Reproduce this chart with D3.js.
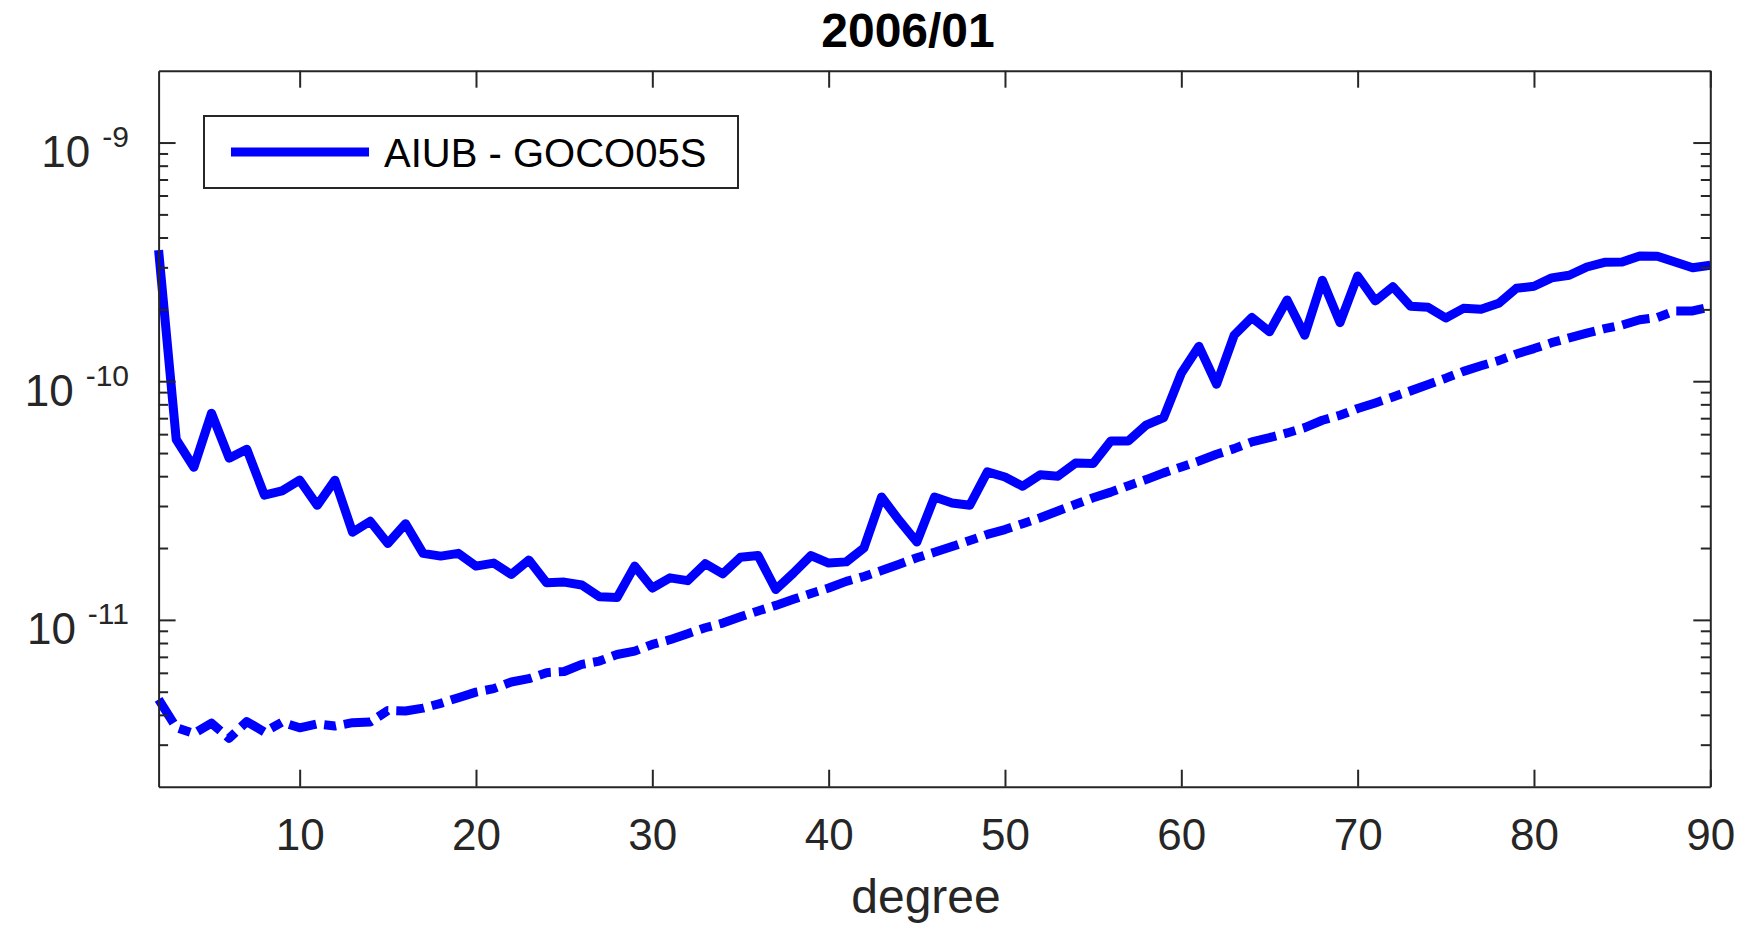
<!DOCTYPE html>
<html>
<head>
<meta charset="utf-8">
<script src="https://cdn.jsdelivr.net/npm/d3@7"></script>
<style>
  html, body { margin: 0; padding: 0; background: #fff; }
  svg { display: block; font-family: "Liberation Sans", Arial, Helvetica, sans-serif; }
</style>
</head>
<body>
<div id="chart"></div>
<script>
const title = "2006/01";
const xLabel = "degree";
const legendLabel = "AIUB - GOCO05S";

const degrees = [2, 3, 4, 5, 6, 7, 8, 9, 10, 11, 12, 13, 14, 15, 16, 17, 18, 19, 20,
  21, 22, 23, 24, 25, 26, 27, 28, 29, 30, 31, 32, 33, 34, 35, 36, 37, 38, 39, 40,
  41, 42, 43, 44, 45, 46, 47, 48, 49, 50, 51, 52, 53, 54, 55, 56, 57, 58, 59, 60,
  61, 62, 63, 64, 65, 66, 67, 68, 69, 70, 71, 72, 73, 74, 75, 76, 77, 78, 79, 80,
  81, 82, 83, 84, 85, 86, 87, 88, 89, 90];

// AIUB - GOCO05S difference (solid)
const diffAmplitude = [3.54e-10, 5.70e-11, 4.36e-11, 7.34e-11, 4.76e-11, 5.19e-11, 3.33e-11, 3.47e-11, 3.85e-11,
  3.02e-11, 3.85e-11, 2.33e-11, 2.59e-11, 2.09e-11, 2.53e-11, 1.90e-11, 1.85e-11, 1.90e-11, 1.68e-11,
  1.73e-11, 1.55e-11, 1.78e-11, 1.43e-11, 1.44e-11, 1.40e-11, 1.25e-11, 1.24e-11, 1.68e-11, 1.36e-11,
  1.50e-11, 1.46e-11, 1.72e-11, 1.56e-11, 1.83e-11, 1.86e-11, 1.34e-11, 1.57e-11, 1.86e-11, 1.73e-11,
  1.75e-11, 2.00e-11, 3.27e-11, 2.61e-11, 2.12e-11, 3.27e-11, 3.09e-11, 3.02e-11, 4.17e-11, 3.97e-11,
  3.63e-11, 4.06e-11, 4.00e-11, 4.54e-11, 4.52e-11, 5.62e-11, 5.62e-11, 6.54e-11, 7.04e-11, 1.08e-10,
  1.40e-10, 9.71e-11, 1.56e-10, 1.85e-10, 1.61e-10, 2.19e-10, 1.56e-10, 2.65e-10, 1.76e-10, 2.76e-10,
  2.17e-10, 2.49e-10, 2.06e-10, 2.04e-10, 1.84e-10, 2.02e-10, 2.00e-10, 2.12e-10, 2.45e-10, 2.50e-10,
  2.71e-10, 2.78e-10, 3.01e-10, 3.15e-10, 3.16e-10, 3.35e-10, 3.34e-10, 3.16e-10, 2.99e-10, 3.06e-10];

// formal error (dash-dot)
const formalError = [4.64e-12, 3.54e-12, 3.34e-12, 3.69e-12, 3.19e-12, 3.75e-12, 3.39e-12, 3.73e-12, 3.53e-12,
  3.67e-12, 3.59e-12, 3.71e-12, 3.73e-12, 4.17e-12, 4.15e-12, 4.27e-12, 4.47e-12, 4.72e-12, 4.98e-12,
  5.15e-12, 5.49e-12, 5.67e-12, 6.01e-12, 6.08e-12, 6.51e-12, 6.72e-12, 7.16e-12, 7.40e-12, 7.89e-12,
  8.26e-12, 8.75e-12, 9.27e-12, 9.70e-12, 1.03e-11, 1.09e-11, 1.15e-11, 1.22e-11, 1.29e-11, 1.36e-11,
  1.45e-11, 1.52e-11, 1.61e-11, 1.71e-11, 1.82e-11, 1.92e-11, 2.03e-11, 2.15e-11, 2.28e-11, 2.39e-11,
  2.53e-11, 2.68e-11, 2.86e-11, 3.05e-11, 3.25e-11, 3.43e-11, 3.65e-11, 3.87e-11, 4.13e-11, 4.37e-11,
  4.63e-11, 4.94e-11, 5.22e-11, 5.57e-11, 5.80e-11, 6.07e-11, 6.39e-11, 6.86e-11, 7.20e-11, 7.68e-11,
  8.11e-11, 8.59e-11, 9.11e-11, 9.69e-11, 1.03e-10, 1.10e-10, 1.16e-10, 1.22e-10, 1.30e-10, 1.37e-10,
  1.45e-10, 1.52e-10, 1.59e-10, 1.66e-10, 1.72e-10, 1.81e-10, 1.85e-10, 1.97e-10, 1.97e-10, 2.05e-10];

const xDomain = [2, 90];
const yDomain = [2e-12, 2e-9];
const xTicks = [10, 20, 30, 40, 50, 60, 70, 80, 90];
const yMajorTicks = [1e-11, 1e-10, 1e-9];
const yTickExponents = ["-11", "-10", "-9"];
const yMinorTicks = [3e-12, 4e-12, 5e-12, 6e-12, 7e-12, 8e-12, 9e-12,
  2e-11, 3e-11, 4e-11, 5e-11, 6e-11, 7e-11, 8e-11, 9e-11,
  2e-10, 3e-10, 4e-10, 5e-10, 6e-10, 7e-10, 8e-10, 9e-10];

const width = 1746, height = 926;
const plot = { left: 158.6, right: 1710.3, top: 70.7, bottom: 786.7 };
const axisColor = "#262626";
const lineColor = "#0000ff";
const majorLen = 17, minorLen = 9.5;

const x = d3.scaleLinear().domain(xDomain).range([plot.left, plot.right]);
const y = d3.scaleLog().domain(yDomain).range([plot.bottom, plot.top]);

const svg = d3.select("#chart").append("svg")
  .attr("width", width)
  .attr("height", height)
  .attr("viewBox", [0, 0, width, height]);

svg.append("rect").attr("width", width).attr("height", height).attr("fill", "#fff");

// data lines
const line = d3.line()
  .x((d, i) => x(degrees[i]))
  .y(d => y(d));

svg.append("path")
  .datum(formalError)
  .attr("fill", "none")
  .attr("stroke", lineColor)
  .attr("stroke-width", 9)
  .attr("stroke-dasharray", "28,8,12,8")
  .attr("stroke-linejoin", "round")
  .attr("d", line);

svg.append("path")
  .datum(diffAmplitude)
  .attr("fill", "none")
  .attr("stroke", lineColor)
  .attr("stroke-width", 9)
  .attr("stroke-linejoin", "round")
  .attr("d", line);

// axes (ticks inside, box on)
const styleAxis = g => {
  g.selectAll(".domain").attr("stroke", axisColor).attr("stroke-width", 2);
  g.selectAll(".tick line").attr("stroke", axisColor).attr("stroke-width", 2);
  g.selectAll("text").attr("fill", axisColor);
};

svg.append("g")
  .attr("transform", `translate(0,${plot.bottom})`)
  .call(d3.axisBottom(x).tickValues(xTicks).tickSizeInner(-majorLen).tickSizeOuter(0).tickPadding(32))
  .call(g => g.selectAll("text").attr("font-size", 44).attr("font-family", null))
  .call(styleAxis);

svg.append("g")
  .attr("transform", `translate(0,${plot.top})`)
  .call(d3.axisTop(x).tickValues(xTicks).tickSizeInner(-majorLen).tickSizeOuter(0).tickFormat(""))
  .call(styleAxis);

svg.append("g")
  .attr("transform", `translate(${plot.left},0)`)
  .call(d3.axisLeft(y).tickValues(yMajorTicks).tickSizeInner(-majorLen).tickSizeOuter(0).tickFormat(""))
  .call(styleAxis);

svg.append("g")
  .attr("transform", `translate(${plot.left},0)`)
  .call(d3.axisLeft(y).tickValues(yMinorTicks).tickSizeInner(-minorLen).tickSizeOuter(0).tickFormat(""))
  .call(g => g.select(".domain").remove())
  .call(styleAxis);

svg.append("g")
  .attr("transform", `translate(${plot.right},0)`)
  .call(d3.axisRight(y).tickValues(yMajorTicks).tickSizeInner(-majorLen).tickSizeOuter(0).tickFormat(""))
  .call(styleAxis);

svg.append("g")
  .attr("transform", `translate(${plot.right},0)`)
  .call(d3.axisRight(y).tickValues(yMinorTicks).tickSizeInner(-minorLen).tickSizeOuter(0).tickFormat(""))
  .call(g => g.select(".domain").remove())
  .call(styleAxis);

// y tick labels as 10^exp
const yLabels = svg.append("g")
  .attr("fill", axisColor)
  .attr("text-anchor", "end");

yMajorTicks.forEach((v, i) => {
  const t = yLabels.append("text")
    .attr("x", 129)
    .attr("y", y(v) + 24.5);
  t.append("tspan").attr("font-size", 44).text("10");
  t.append("tspan").attr("font-size", 30).attr("dx", 12).attr("dy", -20).text(yTickExponents[i]);
});

// x label
svg.append("text")
  .attr("x", 926)
  .attr("y", 913)
  .attr("text-anchor", "middle")
  .attr("font-size", 48)
  .attr("fill", axisColor)
  .text(xLabel);

// title
svg.append("text")
  .attr("x", 908)
  .attr("y", 47)
  .attr("text-anchor", "middle")
  .attr("font-size", 48)
  .attr("font-weight", "bold")
  .attr("fill", "#000")
  .text(title);

// legend
const legend = svg.append("g").attr("transform", "translate(204,116)");
legend.append("rect")
  .attr("width", 534)
  .attr("height", 72)
  .attr("fill", "#fff")
  .attr("stroke", axisColor)
  .attr("stroke-width", 2);
legend.append("line")
  .attr("x1", 27).attr("x2", 165)
  .attr("y1", 36).attr("y2", 36)
  .attr("stroke", lineColor)
  .attr("stroke-width", 9);
legend.append("text")
  .attr("x", 180)
  .attr("y", 51)
  .attr("font-size", 40)
  .attr("fill", "#000")
  .text(legendLabel);
</script>
</body>
</html>
